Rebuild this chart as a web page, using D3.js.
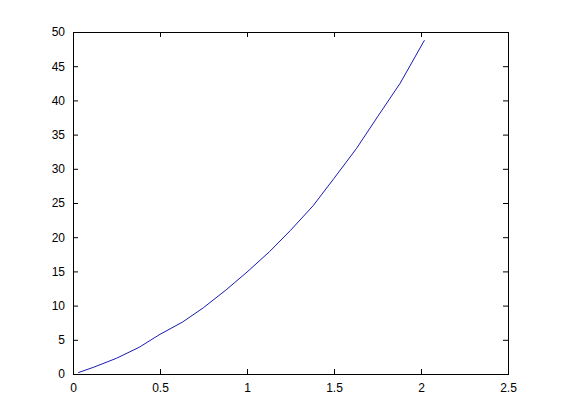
<!DOCTYPE html>
<html lang="en">
<head>
  <meta charset="UTF-8" />
  <title>Curve</title>
  <style>
    body {
      margin: 0;
      background: white;
      overflow: hidden;
    }
    svg text {
      font-family: "Liberation Sans", Arial, sans-serif;
      font-size: 12px;
      fill: #000;
    }
  </style>
</head>
<body>
<svg id="chart" width="561" height="420"></svg>
<script src="https://d3js.org/d3.v7.min.js"></script>
<script>
// values
const xValues = [0.03, 0.12, 0.25, 0.38, 0.5, 0.63, 0.75, 0.88, 1.0, 1.13, 1.25, 1.38, 1.5, 1.63, 1.75, 1.88, 2.02];
const yValues = [0.2, 1.0, 2.3, 3.9, 5.8, 7.6, 9.7, 12.3, 14.9, 17.9, 21.0, 24.6, 28.6, 33.0, 37.6, 42.5, 48.8];
const xTicks = [0, 0.5, 1, 1.5, 2, 2.5];
const yTicks = [0, 5, 10, 15, 20, 25, 30, 35, 40, 45, 50];

// axes box in pixels (`top` is taken by window.top)
const boxLeft = 73, boxRight = 508, boxTop = 32, boxBottom = 374;
const tickLen = 5;

const svg = d3.select("#chart");

const x = d3.scaleLinear().domain([0, 2.5]).range([boxLeft, boxRight]);
const y = d3.scaleLinear().domain([0, 50]).range([boxBottom, boxTop]);

const points = xValues.map((v, i) => [v, yValues[i]]);

// curve
svg.append("path")
  .datum(points)
  .attr("fill", "none")
  .attr("stroke", "#1a1ab4")
  .attr("stroke-width", 1)
  .attr("d", d3.line().x(d => x(d[0])).y(d => y(d[1])));

// box-style axes, ticks pointing inward on all four sides
svg.append("g")
  .attr("transform", `translate(0,${boxBottom})`)
  .call(d3.axisBottom(x).tickValues(xTicks).tickSize(-tickLen).tickPadding(9).tickFormat(d3.format("")))
  .call(g => g.select(".domain").remove());

svg.append("g")
  .attr("transform", `translate(0,${boxTop})`)
  .call(d3.axisTop(x).tickValues(xTicks).tickSize(-tickLen).tickFormat(""))
  .call(g => g.select(".domain").remove());

svg.append("g")
  .attr("transform", `translate(${boxLeft},0)`)
  .call(d3.axisLeft(y).tickValues(yTicks).tickSize(-tickLen).tickPadding(8).tickFormat(d3.format("")))
  .call(g => g.select(".domain").remove());

svg.append("g")
  .attr("transform", `translate(${boxRight},0)`)
  .call(d3.axisRight(y).tickValues(yTicks).tickSize(-tickLen).tickFormat(""))
  .call(g => g.select(".domain").remove());

svg.selectAll("g").attr("font-size", null).attr("font-family", null);

svg.append("rect")
  .attr("x", boxLeft + 0.5)
  .attr("y", boxTop + 0.5)
  .attr("width", boxRight - boxLeft)
  .attr("height", boxBottom - boxTop)
  .attr("fill", "none")
  .attr("stroke", "#000")
  .attr("stroke-width", 1);
</script>
</body>
</html>
